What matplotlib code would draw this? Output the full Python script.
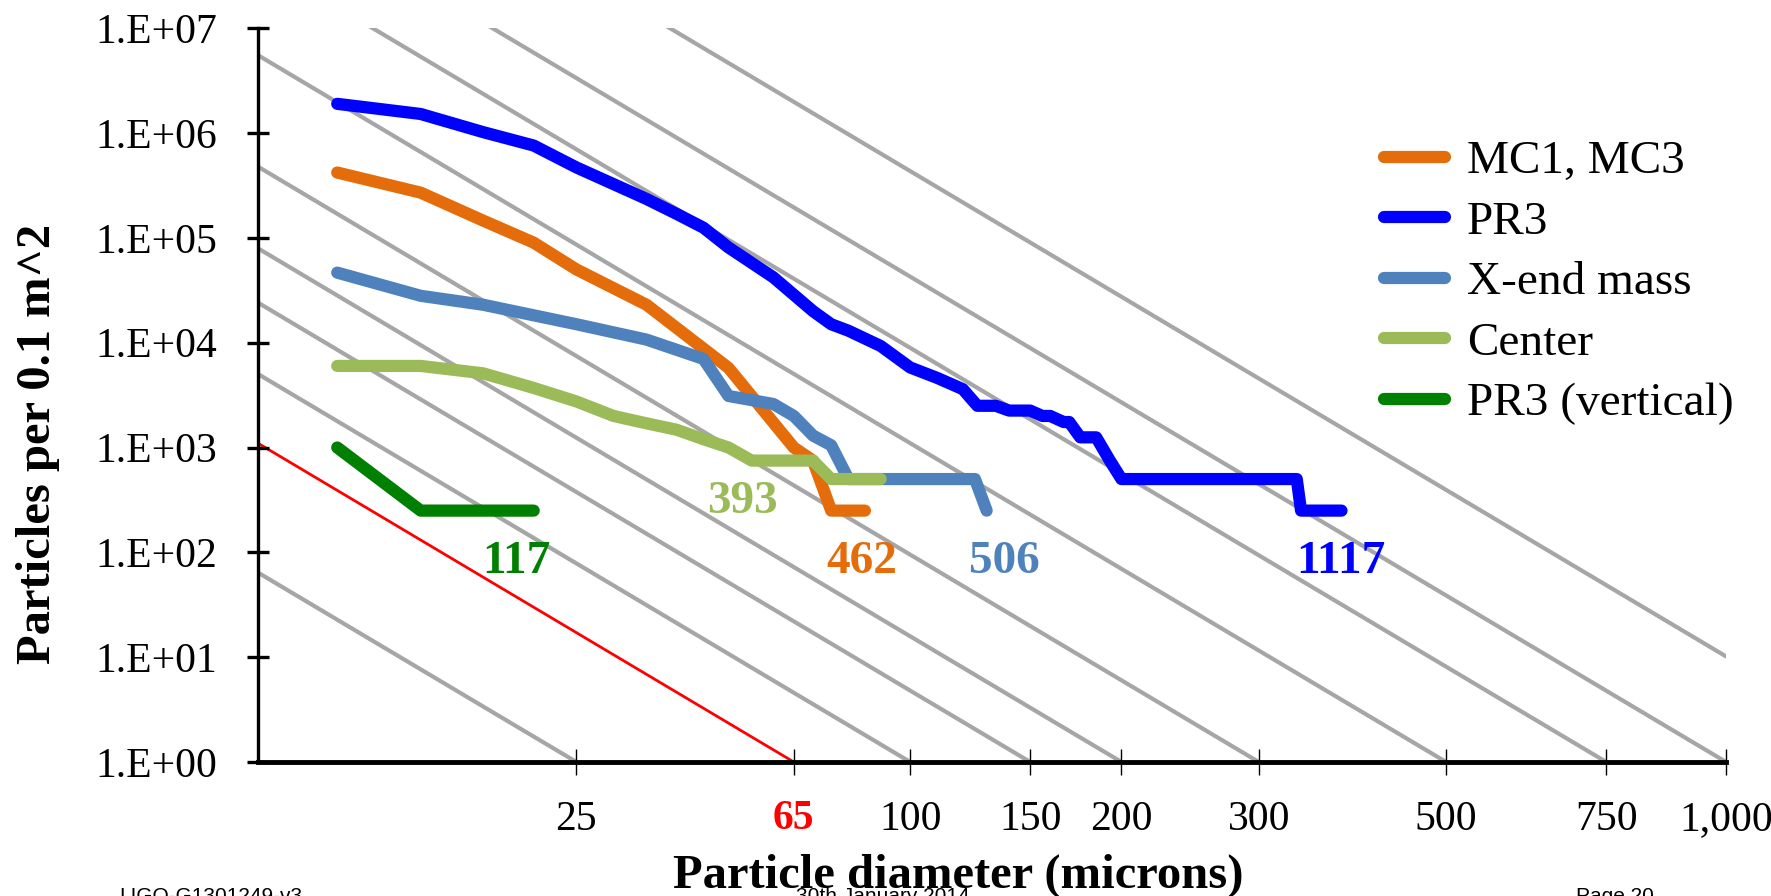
import numpy as np
import matplotlib
matplotlib.use("Agg")
import matplotlib.pyplot as plt

# measured cumulative counts (particles per 0.1 m^2 larger than diameter, microns)
mc_d = [5, 10, 15, 20, 25, 35, 50, 65, 70, 75, 85]
mc_n = [4.2e5, 2.7e5, 1.46e5, 9.0e4, 5.0e4, 2.3e4, 5.75e3, 1.0e3, 750, 250, 250]

pr3_d = [5, 10, 15, 20, 25, 35, 40, 45, 50, 60, 70, 75, 80, 90, 100, 110, 120,
         126, 134, 140, 150, 156, 160, 167, 170, 176, 185, 193, 200, 334, 338, 378]
pr3_n = [1.9e6, 1.52e6, 1.02e6, 7.6e5, 4.7e5, 2.35e5, 1.7e5, 1.25e5, 8.1e4,
         4.2e4, 2.0e4, 1.5e4, 1.3e4, 9.3e3, 5.8e3, 4.6e3, 3.6e3,
         2500, 2500, 2250, 2250, 2000, 2000, 1750, 1750, 1250, 1250, 750, 500,
         500, 250, 250]

xend_d = [5, 10, 15, 25, 35, 45, 50, 60, 65, 70, 75, 80, 125, 130]
xend_n = [4.66e4, 2.8e4, 2.3e4, 1.5e4, 1.07e4, 7.0e3, 3.1e3, 2.6e3, 2.0e3,
          1.3e3, 1.05e3, 500, 500, 250]

center_d = [5, 10, 15, 20, 25, 30, 35, 40, 45, 50, 55, 70, 75, 90]
center_n = [6000, 6000, 5100, 3700, 2750, 2000, 1700, 1480, 1200, 1000, 750,
            750, 500, 500]

pr3v_d = [5, 10, 20]
pr3v_n = [1000, 250, 250]

series_names = ["MC1, MC3", "PR3", "X-end mass", "Center", "PR3 (vertical)"]
series_colors = ["#E46C0A", "#0000FF", "#4F81BD", "#9BBB59", "#008000"]

# cleanliness levels (IEST-STD-CC1246 lines)
levels = [25, 100, 150, 200, 300, 500, 750, 1000, 1500]
red_level = 65
slope = 0.926

# level labels for each series
level_text = ["462", "1117", "506", "393", "117"]
level_pos_d = [84, 377, 138, 53, 18.2]
level_pos_n = [81, 81, 81, 305, 81]

xticks = [25, 65, 100, 150, 200, 300, 500, 750, 1000]
xticklabels = ["25", "65", "100", "150", "200", "300", "500", "750", "1,000"]
yticks = [10.0 ** k for k in range(8)]
yticklabels = ["1.E+%02d" % k for k in range(8)]

serif = "Liberation Serif"


def fwd(x):
    x = np.asarray(x, dtype=float)
    return np.log10(np.clip(x, 1.0, None)) ** 2


def inv(u):
    u = np.asarray(u, dtype=float)
    return 10 ** np.sqrt(np.clip(u, 0.0, None))


fig = plt.figure(figsize=(17.71, 8.96), dpi=100)
ax = fig.add_axes([0.1454, 0.1496, 0.9746 - 0.1454, 0.9685 - 0.1496])
ax.set_xscale("function", functions=(fwd, inv))
ax.set_yscale("log")
ax.set_xlim(1, 1000)
ax.set_ylim(1, 1e7)

# level lines: straight from the left edge (d = 1) down to N = 1 at d = level
for lv in levels:
    ax.plot([1, lv], [10 ** (slope * np.log10(lv) ** 2), 1],
            color="#A6A6A6", lw=3.0, zorder=1)
ax.plot([1, red_level], [10 ** (slope * np.log10(red_level) ** 2), 1],
        color="#FF0000", lw=2.0, zorder=1)

all_d = [mc_d, pr3_d, xend_d, center_d, pr3v_d]
all_n = [mc_n, pr3_n, xend_n, center_n, pr3v_n]
for d, n, name, c in zip(all_d, all_n, series_names, series_colors):
    ax.plot(d, n, color=c, lw=8.8, label=name, solid_capstyle="round",
            solid_joinstyle="round", zorder=3)

for t, d, n, c in zip(level_text, level_pos_d, level_pos_n, series_colors):
    ax.text(d, n, t, color=c, fontsize=34, fontweight="bold", family=serif,
            ha="center", va="center", zorder=4)

ax.set_xticks(xticks)
ax.set_xticklabels(xticklabels, fontsize=30, family=serif)
ax.xaxis.set_minor_locator(matplotlib.ticker.NullLocator())
for lab in ax.get_xticklabels():
    if lab.get_text() == "65":
        lab.set_color("#FF0000")
        lab.set_fontweight("bold")
ax.set_yticks(yticks)
ax.set_yticklabels(yticklabels, fontsize=30, family=serif)
ax.yaxis.set_minor_locator(matplotlib.ticker.NullLocator())

ax.tick_params(axis="x", direction="inout", length=19, width=1.0, pad=18)
ax.tick_params(axis="y", direction="inout", length=16, width=2.4, pad=21)

for s in ["top", "right"]:
    ax.spines[s].set_visible(False)
ax.spines["left"].set_linewidth(2.4)
ax.spines["bottom"].set_linewidth(3.5)

fig.text(958 / 1771, 1 - 876 / 896, "Particle diameter (microns)", fontsize=35,
         fontweight="bold", family=serif, ha="center", va="center")
fig.text(38 / 1771, 1 - 444 / 896, "Particles per 0.1 m^2", fontsize=35,
         fontweight="bold", family=serif, ha="center", va="center",
         rotation=90)

leg = ax.legend(loc="upper left", bbox_to_anchor=(1384 / 1771, 1 - 140 / 896),
                bbox_transform=fig.transFigure, frameon=False,
                prop={"family": serif, "size": 34}, handlelength=1.3,
                handletextpad=0.45, labelspacing=0.37, borderpad=0,
                borderaxespad=0)

# footer of the slide, cut off at the bottom edge
for x, t in [(119, "LIGO-G1301249-v3"), (796, "30th January 2014"),
             (1576, "Page 20")]:
    fig.text(x / 1771, 1 - 887 / 896, t, fontsize=15, family="Liberation Sans",
             ha="left", va="top")

fig.savefig("out.png", dpi=100)
